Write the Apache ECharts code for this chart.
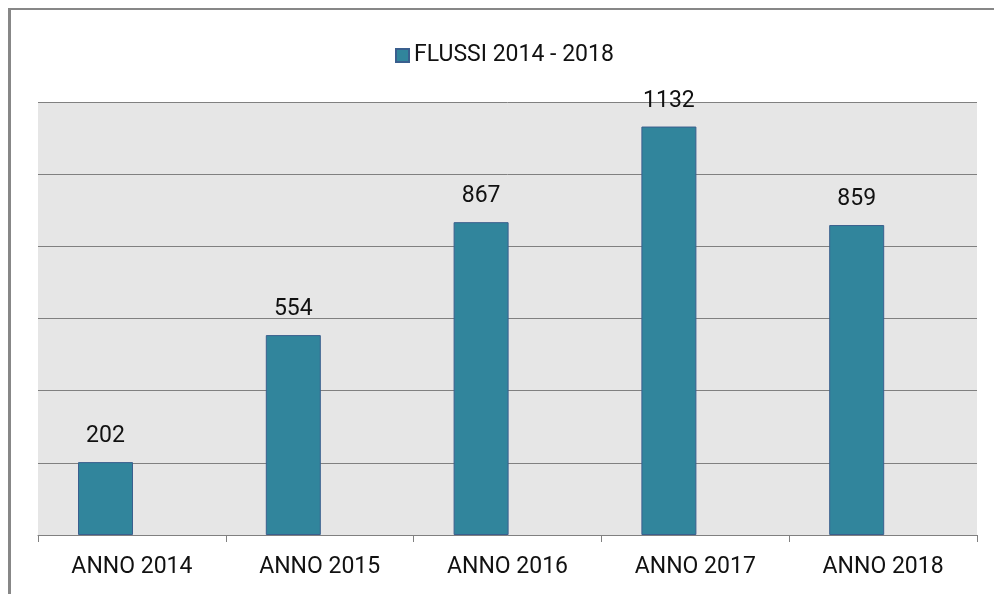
<!DOCTYPE html>
<html>
<head>
<meta charset="utf-8">
<title>Flussi 2014 - 2018</title>
<script src="https://cdn.jsdelivr.net/npm/echarts@6/dist/echarts.min.js"></script>
<style>
    html, body { margin: 0; padding: 0; background: #fff; }
    #frame { position: absolute; left: 8px; top: 8px; width: 1000px; height: 600px;
             border-left: 3px solid #878787; border-top: 2px solid #878787; }
    #chart { position: absolute; left: 0; top: 0; width: 994px; height: 594px; }
</style>
</head>
<body>
<div id="frame"></div>
<div id="chart"></div>
<script type="text/javascript">
    // dati
    var anni = ['ANNO 2014', 'ANNO 2015', 'ANNO 2016', 'ANNO 2017', 'ANNO 2018'];
    var flussi = [202, 554, 867, 1132, 859];
    var vuota = ['-', '-', '-', '-', '-'];   // seconda serie vuota (sposta le barre a sinistra)
    var nomeSerie = 'FLUSSI 2014 - 2018';

    var font = 'Roboto, "Liberation Sans", sans-serif';
    var grigio = '#808080';

    var myChart = echarts.init(document.getElementById('chart'));
    myChart.setOption({
        animation: false,
        legend: {
            data: [nomeSerie],
            left: 390,
            top: 39,
            itemWidth: 13,
            itemHeight: 13,
            icon: 'rect',
            textStyle: { fontFamily: font, fontSize: 23, color: '#111' }
        },
        grid: {
            left: 38, right: 17, top: 102, bottom: 59,
            show: true, backgroundColor: '#e6e6e6', borderWidth: 0
        },
        xAxis: {
            type: 'category',
            data: anni,
            axisLine: { lineStyle: { color: grigio, width: 1 } },
            axisTick: { show: true, interval: 0, length: 7, lineStyle: { color: grigio } },
            axisLabel: { margin: 21, fontFamily: font, fontSize: 23, color: '#111', interval: 0 }
        },
        yAxis: {
            type: 'value',
            min: 0, max: 1200, interval: 200,
            axisLabel: { show: false },
            axisLine: { show: false },
            axisTick: { show: false },
            splitLine: { lineStyle: { color: grigio, width: 1 } }
        },
        series: [{
            name: nomeSerie,
            type: 'bar',
            data: flussi,
            barWidth: 55,
            barGap: '-4%',
            itemStyle: { color: '#31859c', borderColor: '#3a5f8e', borderWidth: 1 },
            label: {
                show: true, position: 'top', distance: 14,
                fontFamily: font, fontSize: 23, color: '#111'
            }
        }, {
            name: 'vuota',
            type: 'bar',
            data: vuota,
            barWidth: 55
        }]
    });
</script>
</body>
</html>
